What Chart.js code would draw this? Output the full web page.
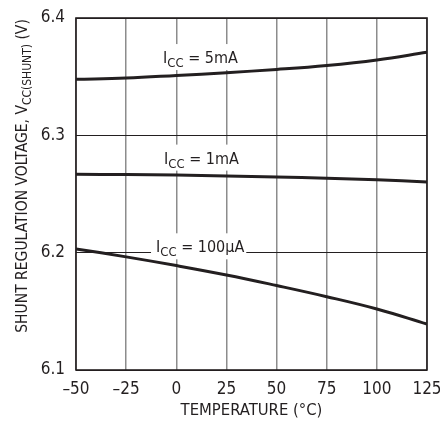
<!DOCTYPE html>
<html>
<head>
<meta charset="utf-8">
<script src="https://cdn.jsdelivr.net/npm/chart.js@4"></script>
<style>
html,body{margin:0;padding:0;background:#fff;}
#wrap{width:440px;height:421px;position:relative;}
</style>
</head>
<body>
<div id="wrap"><canvas id="c" width="440" height="421"></canvas></div>
<script>
const temps = [-50, -25, 0, 25, 50, 75, 100, 125];
const v5mA = [6.3477, 6.3488, 6.3510, 6.3534, 6.3562, 6.3596, 6.3643, 6.3708];
const v1mA = [6.2668, 6.2666, 6.2661, 6.2654, 6.2645, 6.2634, 6.2621, 6.2602];
const v100uA = [6.2032, 6.1964, 6.1890, 6.1810, 6.1720, 6.1625, 6.1520, 6.1392];
const xTicks = [-50, -25, 0, 25, 50, 75, 100, 125];
const yTicks = [6.1, 6.2, 6.3, 6.4];
const curveLabels = [
  {main: 'I', sub: 'CC', rest: ' = 5mA', x: -6.6, y: 6.3616},
  {main: 'I', sub: 'CC', rest: ' = 1mA', x: -6.1, y: 6.2759},
  {main: 'I', sub: 'CC', rest: ' = 100\u00B5A', x: -10.1, y: 6.2003}
];
const xTitle = 'TEMPERATURE (\u00B0C)';
const yTitleParts = ['SHUNT REGULATION VOLTAGE, V', 'CC(SHUNT)', ' (V)'];

const FONT = '"Liberation Sans Narrow", "DejaVu Sans Condensed", "Arial Narrow", sans-serif';

function toPts(ys) { return temps.map((t, i) => ({x: t, y: ys[i]})); }

function drawLabel(ctx, lab, x, y, mainSize, subSize, subOff) {
  ctx.font = mainSize + 'px ' + FONT;
  const w1 = ctx.measureText(lab.main).width;
  ctx.font = subSize + 'px ' + FONT;
  const w2 = ctx.measureText(lab.sub).width;
  ctx.font = mainSize + 'px ' + FONT;
  const w3 = ctx.measureText(lab.rest).width;
  return {w: w1 + w2 + w3, draw: () => {
    ctx.textBaseline = 'alphabetic';
    ctx.textAlign = 'left';
    ctx.fillStyle = '#231f20';
    ctx.font = mainSize + 'px ' + FONT;
    ctx.fillText(lab.main, x, y);
    ctx.font = subSize + 'px ' + FONT;
    ctx.fillText(lab.sub, x + w1, y + subOff);
    ctx.font = mainSize + 'px ' + FONT;
    ctx.fillText(lab.rest, x + w1 + w2, y);
  }};
}

const decor = {
  id: 'decor',
  beforeDatasetsDraw(chart) {
    const ctx = chart.ctx, xs = chart.scales.x, ys = chart.scales.y;
    ctx.save();
    curveLabels.forEach(lab => {
      const px = xs.getPixelForValue(lab.x), py = ys.getPixelForValue(lab.y);
      const m = drawLabel(ctx, lab, px, py, 16, 13, 4);
      ctx.fillStyle = '#fff';
      ctx.fillRect(px - 5, py - 19, m.w + 7, 26);
    });
    const a = chart.chartArea;
    ctx.strokeStyle = '#231f20';
    ctx.lineWidth = 1.6;
    ctx.strokeRect(a.left, a.top, a.right - a.left, a.bottom - a.top);
    ctx.restore();
  },
  afterDatasetsDraw(chart) {
    const ctx = chart.ctx, xs = chart.scales.x, ys = chart.scales.y;
    ctx.save();
    curveLabels.forEach(lab => {
      const px = xs.getPixelForValue(lab.x), py = ys.getPixelForValue(lab.y);
      drawLabel(ctx, lab, px, py, 16, 13, 4).draw();
    });
    ctx.translate(27, 176);
    ctx.rotate(-Math.PI / 2);
    ctx.font = '15.5px ' + FONT;
    const w1 = ctx.measureText(yTitleParts[0]).width;
    const w3 = ctx.measureText(yTitleParts[2]).width;
    ctx.font = '12px ' + FONT;
    const w2 = ctx.measureText(yTitleParts[1]).width;
    const tot = w1 + w2 + w3;
    let x0 = -tot / 2;
    ctx.fillStyle = '#231f20';
    ctx.textBaseline = 'alphabetic';
    ctx.textAlign = 'left';
    ctx.font = '15.5px ' + FONT;
    ctx.fillText(yTitleParts[0], x0, 0);
    ctx.font = '12px ' + FONT;
    ctx.fillText(yTitleParts[1], x0 + w1, 3.5);
    ctx.font = '15.5px ' + FONT;
    ctx.fillText(yTitleParts[2], x0 + w1 + w2, 0);
    ctx.restore();
  }
};

const lineStyle = {borderColor: '#231f20', borderWidth: 3, pointRadius: 0, fill: false, tension: 0.4};

new Chart(document.getElementById('c'), {
  type: 'line',
  data: {
    datasets: [
      Object.assign({label: 'ICC = 5mA', data: toPts(v5mA)}, lineStyle),
      Object.assign({label: 'ICC = 1mA', data: toPts(v1mA)}, lineStyle),
      Object.assign({label: 'ICC = 100\u00B5A', data: toPts(v100uA)}, lineStyle)
    ]
  },
  options: {
    responsive: false,
    animation: false,
    devicePixelRatio: 1,
    layout: {padding: {top: 18, right: 13, left: 0, bottom: 0}},
    plugins: {legend: {display: false}, tooltip: {enabled: false}},
    scales: {
      x: {
        type: 'linear', min: -50, max: 125,
        afterBuildTicks: s => { s.ticks = xTicks.map(v => ({value: v})); },
        afterFit: s => { s.height = 51; s.paddingLeft = 0; s.paddingRight = 0; },
        grid: {color: '#8c8c8c', lineWidth: 1.5, drawTicks: false},
        border: {display: false},
        ticks: {
          padding: 9, color: '#231f20',
          font: {family: FONT, size: 17},
          callback: v => (v < 0 ? '\u2013' + Math.abs(v) : String(v))
        },
        title: {display: true, text: xTitle, color: '#231f20', font: {family: FONT, size: 16.5}, padding: {top: 0, bottom: 0}}
      },
      y: {
        type: 'linear', min: 6.1, max: 6.4,
        afterBuildTicks: s => { s.ticks = yTicks.map(v => ({value: v})); },
        afterFit: s => { s.width = 76; s.paddingTop = 0; s.paddingBottom = 0; },
        grid: {color: '#231f20', lineWidth: 1, drawTicks: false},
        border: {display: false},
        ticks: {
          padding: 11, color: '#231f20',
          font: {family: FONT, size: 17},
          callback: v => Number(v).toFixed(1)
        }
      }
    }
  },
  plugins: [decor]
});
</script>
</body>
</html>
